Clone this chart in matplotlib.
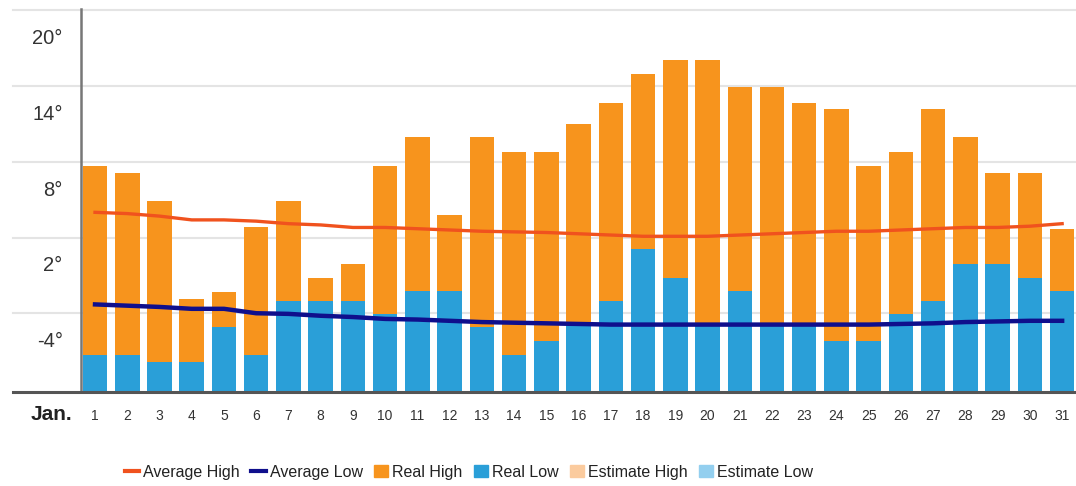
import matplotlib
matplotlib.use('Agg')
import matplotlib.pyplot as plt
from matplotlib.lines import Line2D
from matplotlib.patches import Patch
import numpy as np

plt.rcParams['font.family'] = ['Liberation Sans', 'DejaVu Sans']

# daily temperatures, January (deg C)
days = list(range(1, 32))
real_high = [10.7, 10.1, 7.9, 0.1, 0.7, 5.8, 7.9, 1.8, 2.9, 10.7,
             13.0, 6.8, 13.0, 11.8, 11.8, 14.0, 15.7, 18.0, 19.1, 19.1,
             16.9, 16.9, 15.7, 15.2, 10.7, 11.8, 15.2, 13.0, 10.1, 10.1, 5.7]
real_low = [-4.3, -4.3, -4.9, -4.9, -2.1, -4.3, 0.0, 0.0, 0.0, -1.1,
            0.8, 0.8, -2.1, -4.3, -3.2, -1.9, 0.0, 4.1, 1.8, -1.9,
            0.8, -1.9, -1.9, -3.2, -3.2, -1.1, 0.0, 2.9, 2.9, 1.8, 0.8]
avg_high = [7.0, 6.9, 6.7, 6.4, 6.4, 6.3, 6.1, 6.0, 5.8, 5.8,
            5.7, 5.6, 5.5, 5.45, 5.4, 5.3, 5.2, 5.1, 5.1, 5.1,
            5.2, 5.3, 5.4, 5.5, 5.5, 5.6, 5.7, 5.8, 5.8, 5.9, 6.1]
avg_low = [-0.3, -0.4, -0.5, -0.65, -0.65, -1.0, -1.05, -1.2, -1.3, -1.45,
           -1.5, -1.6, -1.7, -1.75, -1.8, -1.85, -1.9, -1.9, -1.9, -1.9,
           -1.9, -1.9, -1.9, -1.9, -1.9, -1.85, -1.8, -1.7, -1.65, -1.6, -1.6]
ytick_vals = [20, 14, 8, 2, -4]
grid_vals = [-1, 5, 11, 17, 23]

c_high = '#F7941D'
c_low = '#2A9FD8'
c_avg_high = '#F0521E'
c_avg_low = '#0F0F8C'
c_est_high = '#FBCB9E'
c_est_low = '#93CFEF'

fig = plt.figure(figsize=(10.76, 4.86), dpi=100)
ax = fig.add_axes([0.075, 0.193, 0.925, 0.788])
bottom = -7.26
ax.set_ylim(bottom, 23.1)
ax.set_xlim(0.556, 31.43)

for g in grid_vals:
    ax.axhline(g, xmin=-0.068, xmax=1, color='#e4e4e4', lw=1.5, zorder=0, clip_on=False)

x = np.array(days)
hi = np.array(real_high)
lo = np.array(real_low)
ax.bar(x, hi - bottom, bottom=bottom, width=0.76, color=c_high, zorder=2)
ax.bar(x, lo - bottom, bottom=bottom, width=0.76, color=c_low, zorder=3)
ax.plot(x, avg_high, color=c_avg_high, lw=2.4, zorder=4)
ax.plot(x, avg_low, color=c_avg_low, lw=3.2, zorder=4)

for s in ['top', 'right']:
    ax.spines[s].set_visible(False)
ax.spines['left'].set_color('#777777')
ax.spines['left'].set_linewidth(1.8)
ax.spines['bottom'].set_visible(False)
ax.axhline(bottom, xmin=-0.068, xmax=1, color='#555555', lw=2.2, zorder=5, clip_on=False)

ax.set_yticks(ytick_vals)
ax.set_yticklabels([f'{v}\u00b0' for v in ytick_vals], fontsize=14.5, color='#333333', va='bottom')
ax.tick_params(axis='y', length=0, pad=13)
ax.set_xticks(days)
ax.set_xticklabels([str(d) for d in days], fontsize=10, color='#333333')
ax.tick_params(axis='x', length=0, pad=12)
fig.text(0.048, 1 - 414 / 486, 'Jan.', fontsize=15, color='#222222',
         ha='center', va='center', fontweight='bold')

handles = [
    Line2D([], [], color=c_avg_high, lw=3),
    Line2D([], [], color=c_avg_low, lw=3),
    Patch(color=c_high),
    Patch(color=c_low),
    Patch(color=c_est_high),
    Patch(color=c_est_low),
]
labels = ['Average High', 'Average Low', 'Real High', 'Real Low', 'Estimate High', 'Estimate Low']
fig.legend(handles, labels, loc='center', bbox_to_anchor=(0.436, 1 - 472 / 486), ncol=6,
           frameon=False, fontsize=11.5, handlelength=0.9, handleheight=0.8,
           handletextpad=0.25, columnspacing=0.7, labelcolor='#222222')

fig.savefig('out.png', dpi=100)
